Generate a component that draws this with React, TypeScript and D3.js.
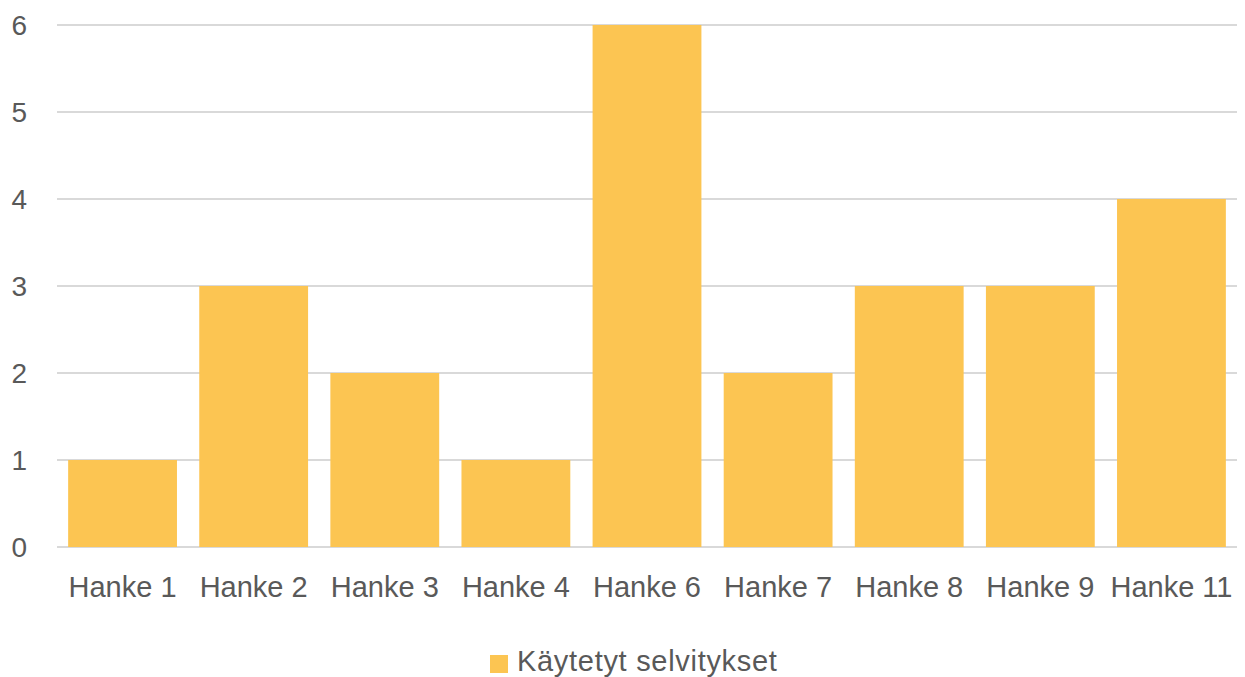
import React from 'react';
import * as d3 from 'd3';

const categories = ['Hanke 1', 'Hanke 2', 'Hanke 3', 'Hanke 4', 'Hanke 6', 'Hanke 7', 'Hanke 8', 'Hanke 9', 'Hanke 11'];
const values = [1, 3, 2, 1, 6, 2, 3, 3, 4];
const yTicks = [0, 1, 2, 3, 4, 5, 6];
const seriesName = 'Käytetyt selvitykset';

const W = 1245;
const H = 677;

const App = () => {
  const ref = React.useRef<SVGSVGElement>(null);

  React.useEffect(() => {
    const svg = d3.select(ref.current);
    svg.selectAll('*').remove();

    const font = '"Liberation Sans", Arial, sans-serif';
    const textColor = '#595959';
    const left = 57;
    const right = 1237;
    const top = 25;
    const bottom = 547;

    const x = d3.scaleBand().domain(categories).range([left, right]).paddingInner(0.17).paddingOuter(0.085);
    const y = d3.scaleLinear().domain([0, 6]).range([bottom, top]);

    // gridlines
    svg.append('g')
      .selectAll('line')
      .data(yTicks)
      .join('line')
      .attr('x1', left)
      .attr('x2', right)
      .attr('y1', (d) => y(d))
      .attr('y2', (d) => y(d))
      .attr('stroke', '#d9d9d9')
      .attr('stroke-width', 2);

    // bars
    svg.append('g')
      .selectAll('rect')
      .data(values)
      .join('rect')
      .attr('x', (_, i) => x(categories[i])!)
      .attr('y', (d) => y(d))
      .attr('width', x.bandwidth())
      .attr('height', (d) => y(0) - y(d))
      .attr('fill', '#fcc552');

    // y labels
    svg.append('g')
      .selectAll('text')
      .data(yTicks)
      .join('text')
      .attr('x', 27)
      .attr('y', (d) => y(d))
      .attr('dy', '0.35em')
      .attr('text-anchor', 'end')
      .attr('font-family', font)
      .attr('font-size', 28)
      .attr('fill', textColor)
      .text((d) => d);

    // x labels
    svg.append('g')
      .selectAll('text')
      .data(categories)
      .join('text')
      .attr('x', (d) => x(d)! + x.bandwidth() / 2)
      .attr('y', 597)
      .attr('text-anchor', 'middle')
      .attr('font-family', font)
      .attr('font-size', 29)
      .attr('fill', textColor)
      .text((d) => d);

    // legend
    const lg = svg.append('g');
    lg.append('rect')
      .attr('x', 490)
      .attr('y', 655)
      .attr('width', 18)
      .attr('height', 18)
      .attr('fill', '#fcc552');
    lg.append('text')
      .attr('x', 517)
      .attr('y', 671)
      .attr('font-family', font)
      .attr('font-size', 29)
      .attr('letter-spacing', 0.7)
      .attr('fill', textColor)
      .text(seriesName);
  }, []);

  return <svg ref={ref} width={W} height={H} style={{ display: 'block', position: 'absolute', left: 0, top: 0 }}></svg>;
};

export default App;
